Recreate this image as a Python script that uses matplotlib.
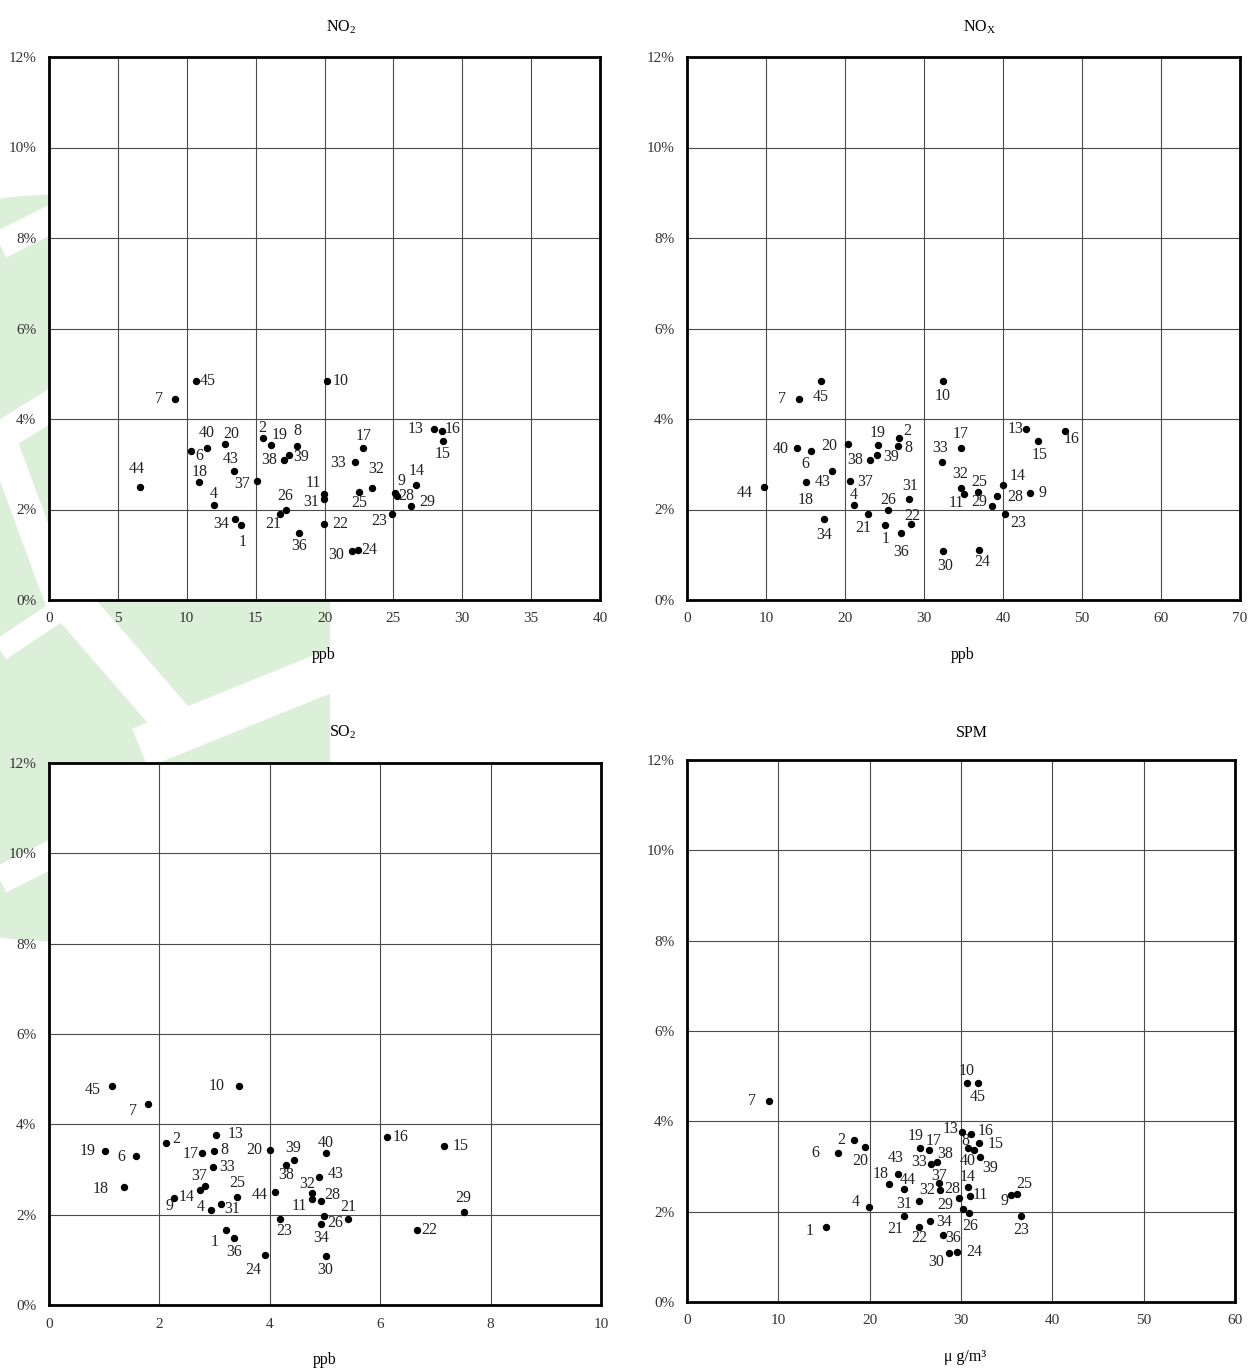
import numpy as np
import matplotlib
matplotlib.use("Agg")
import matplotlib.pyplot as plt
from matplotlib.patches import Circle, Rectangle

plt.rcParams['font.family'] = ['Liberation Serif', 'DejaVu Serif']
plt.rcParams['mathtext.fontset'] = 'custom'
plt.rcParams['mathtext.rm'] = 'Liberation Serif'

# station numbers (same order in every list below)
ids = [1, 2, 4, 6, 7, 8, 9, 10, 11, 13, 14, 15, 16, 17, 18, 19, 20, 21, 22,
       23, 24, 25, 26, 28, 29, 30, 31, 32, 33, 34, 36, 37, 38, 39, 40, 43, 44, 45]

# share (%) - same for each panel
share = [1.65, 3.58, 2.11, 3.29, 4.44, 3.41, 2.37, 4.85, 2.35, 3.77, 2.54, 3.51,
         3.73, 3.37, 2.61, 3.42, 3.44, 1.90, 1.67, 1.90, 1.10, 2.39, 1.98, 2.30,
         2.07, 1.09, 2.24, 2.47, 3.05, 1.79, 1.49, 2.63, 3.09, 3.20, 3.37, 2.84,
         2.50, 4.84]

no2 = [13.96, 15.56, 11.98, 10.33, 9.15, 18.03, 25.14, 20.18, 19.96, 27.93, 26.67,
       28.58, 28.50, 22.82, 10.91, 16.09, 12.80, 16.80, 19.96, 24.88, 22.41, 22.53,
       17.23, 25.24, 26.28, 21.97, 19.99, 23.43, 22.24, 13.48, 18.13, 15.08, 17.08,
       17.45, 11.45, 13.43, 6.60, 10.67]

nox = [25.10, 26.87, 21.14, 15.66, 14.18, 26.75, 43.46, 32.36, 35.10, 42.95, 39.96,
       44.43, 47.80, 34.64, 15.06, 24.18, 20.42, 22.91, 28.31, 40.30, 36.90, 36.80,
       25.44, 39.20, 38.60, 32.40, 28.10, 34.73, 32.28, 17.34, 27.05, 20.68, 23.16,
       24.01, 13.92, 18.35, 9.71, 16.96]

so2 = [3.20, 2.12, 2.93, 1.58, 1.80, 2.99, 2.27, 3.44, 4.77, 3.03, 2.73, 7.16, 6.12,
       2.78, 1.36, 1.01, 4.01, 5.42, 6.67, 4.19, 3.91, 3.41, 4.99, 4.92, 7.51, 5.01,
       3.12, 4.76, 2.97, 4.93, 3.35, 2.82, 4.29, 4.43, 5.01, 4.89, 4.09, 1.14]

spm = [15.22, 18.29, 19.93, 16.57, 9.01, 30.80, 35.51, 30.66, 31.02, 30.07, 30.73,
       31.94, 31.10, 26.53, 22.15, 25.47, 19.53, 23.80, 25.40, 36.57, 29.60, 36.17,
       30.88, 29.78, 30.19, 28.72, 25.44, 27.70, 26.72, 26.61, 28.00, 27.56, 27.34,
       32.08, 31.46, 23.07, 23.76, 31.83]

# label offsets in pixels (dx, dy downwards), per station
off_no2 = {1: (1, 17), 2: (-1, -10), 4: (0, -11), 6: (8, 5), 7: (-16, 0), 8: (0, -15),
           9: (6, -12), 10: (14, 0), 11: (-11, -11), 13: (-18, 0), 14: (0, -14),
           15: (0, 13), 16: (11, -2), 17: (0, -12), 18: (0, -10), 19: (9, -10),
           20: (6, -10), 21: (-7, 10), 22: (16, 0), 23: (-13, 7), 24: (12, 0),
           25: (0, 11), 26: (-1, -14), 28: (10, 0), 29: (16, -4), 30: (-15, 4),
           31: (-13, 3), 32: (4, -19), 33: (-17, 1), 34: (-13, 5), 36: (0, 13),
           37: (-15, 3), 38: (-15, 0), 39: (12, 2), 40: (0, -15), 43: (-3, -12),
           44: (-3, -18), 45: (12, 0)}
off_nox = {1: (0, 14), 2: (8, -7), 4: (0, -10), 6: (-5, 13), 7: (-17, 0), 8: (10, 2),
           9: (12, 0), 10: (0, 15), 11: (-8, 9), 13: (-11, 0), 14: (15, -9),
           15: (2, 14), 16: (7, 8), 17: (0, -14), 18: (0, 18), 19: (0, -12),
           20: (-19, 2), 21: (-5, 14), 22: (2, -8), 23: (13, 9), 24: (4, 12),
           25: (2, -10), 26: (0, -10), 28: (19, 1), 29: (-13, -4), 30: (2, 15),
           31: (1, -13), 32: (-1, -14), 33: (-2, -14), 34: (0, 16), 36: (0, 19),
           37: (15, 1), 38: (-15, 0), 39: (15, 2), 40: (-16, 1), 43: (-9, 11),
           44: (-19, 6), 45: (0, 16)}
off_so2 = {1: (-11, 12), 2: (10, -4), 4: (-10, -3), 6: (-15, 1), 7: (-15, 7),
           8: (10, -1), 9: (-5, 8), 10: (-22, 0), 11: (-13, 7), 13: (19, -1),
           14: (-13, 7), 15: (16, 0), 16: (14, 0), 17: (-12, 1), 18: (-23, 2),
           19: (-17, 0), 20: (-16, 0), 21: (0, -12), 22: (12, 0), 23: (4, 12),
           24: (-12, 15), 25: (0, -14), 26: (11, 7), 28: (12, -6), 29: (0, -14),
           30: (0, 14), 31: (11, 5), 32: (-5, -9), 33: (14, 0), 34: (0, 14),
           36: (0, 14), 37: (-5, -10), 38: (0, 10), 39: (0, -12), 40: (0, -10),
           43: (17, -3), 44: (-15, 3), 45: (-19, 4)}
off_spm = {1: (-16, 4), 2: (-13, 0), 4: (-13, -5), 6: (-23, 0), 7: (-17, 0),
           8: (-3, -7), 9: (-7, 6), 10: (0, -12), 11: (10, -1), 13: (-11, -3),
           14: (0, -10), 15: (17, 1), 16: (15, -3), 17: (4, -9), 18: (-9, -10),
           19: (-4, -12), 20: (-5, 14), 21: (-9, 13), 22: (0, 11), 23: (0, 14),
           24: (17, 0), 25: (7, -10), 26: (1, 13), 28: (-7, -9), 29: (-17, -4),
           30: (-13, 9), 31: (-15, 3), 32: (-13, 0), 33: (-12, -2), 34: (14, 1),
           36: (10, 3), 37: (0, -7), 38: (8, -8), 39: (10, 11), 40: (-7, 11),
           43: (-2, -16), 44: (4, -9), 45: (0, 14)}

W, H = 1249, 1370
fig = plt.figure(figsize=(W / 100, H / 100), dpi=100)

# faint green logo in the background
bg = fig.add_axes([0, 0, 1, 1], zorder=-10)
bg.set_xlim(0, W)
bg.set_ylim(H, 0)
bg.axis('off')
clip = Rectangle((0, 0), 330, H, transform=bg.transData)
circ = Circle((50, 568), 373, facecolor='#dcefd8', edgecolor='none')
bg.add_patch(circ)
circ.set_clip_path(clip)
stripes = [((0, 437), (60, 600), 22), ((0, 437), (60, 400), 22),
           ((60, 590), (190, 740), 30), ((140, 748), (345, 665), 30),
           ((0, 245), (60, 215), 20), ((0, 880), (60, 850), 20),
           ((0, 650), (60, 610), 16)]
for (x0, y0), (x1, y1), lw in stripes:
    bg.plot([x0, x1], [y0, y1], color='white', lw=lw, solid_capstyle='butt')


def panel(rect, xs, offs, xmax, xstep, title, tpos, xlabel, lpos):
    ax = fig.add_axes([rect[0] / W, 1 - rect[3] / H, (rect[2] - rect[0]) / W,
                       (rect[3] - rect[1]) / H])
    ax.set_facecolor('white')
    ax.plot(xs, share, 'o', color='black', markersize=4.3, zorder=3)
    for i, x, y in zip(ids, xs, share):
        dx, dy = offs[i]
        ax.annotate(str(i), (x, y), xytext=(dx, -dy), textcoords='offset pixels',
                    ha='center', va='center', fontsize=11.5, color='#222')
    ax.set_xlim(0, xmax)
    ax.set_ylim(0, 12)
    ax.set_xticks(np.arange(0, xmax + 0.1, xstep))
    ax.set_yticks(np.arange(0, 13, 2))
    ax.set_yticklabels(['%d%%' % v for v in range(0, 13, 2)])
    ax.grid(True, color='#4a4a4a', lw=0.8)
    ax.set_axisbelow(True)
    ax.tick_params(length=0, labelsize=11, colors='#333')
    ax.tick_params(axis='y', pad=9)
    ax.tick_params(axis='x', pad=9)
    for s in ax.spines.values():
        s.set_linewidth(2)
    fig.text(tpos[0] / W, 1 - tpos[1] / H, title, ha='center', va='center', fontsize=11.5)
    fig.text(lpos[0] / W, 1 - lpos[1] / H, xlabel, ha='center', va='center', fontsize=11.5)
    return ax


panel((49, 57, 600, 600), no2, off_no2, 40, 5, r'NO$_\mathrm{2}$', (341, 27), 'ppb', (324, 655))
panel((687, 57, 1240, 600), nox, off_nox, 70, 10, r'NO$_\mathrm{X}$', (980, 27), 'ppb', (963, 655))
panel((49, 763, 601, 1305), so2, off_so2, 10, 2, r'SO$_\mathrm{2}$', (343, 732), 'ppb', (325, 1360))
panel((687, 760, 1235, 1302), spm, off_spm, 60, 10, 'SPM', (972, 733), 'μ g/m³', (965, 1357))

fig.savefig('out.png', dpi=100)
